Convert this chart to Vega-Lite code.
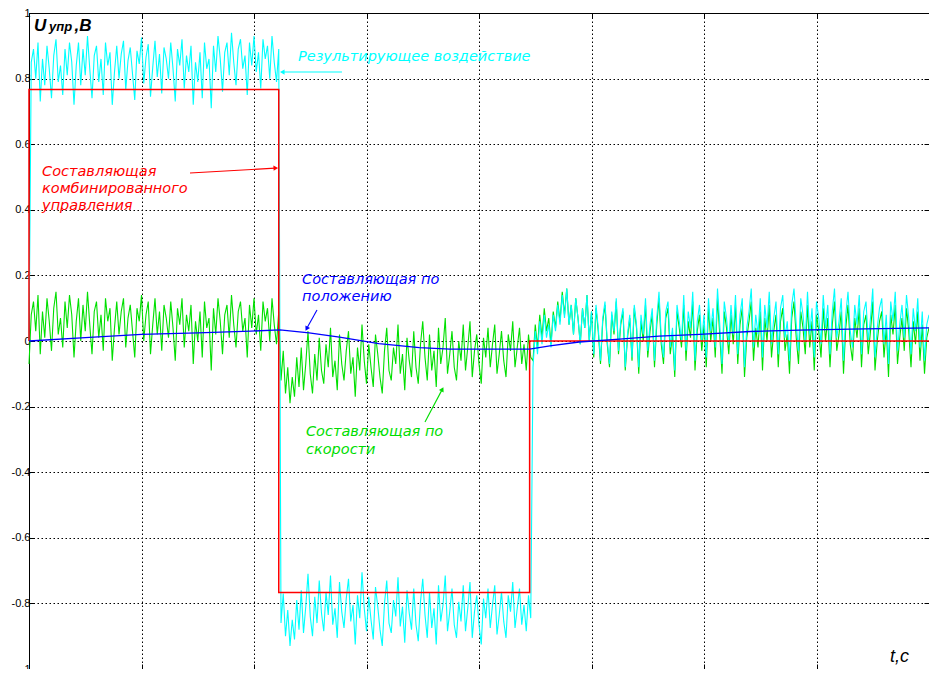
{
"$schema": "https://vega.github.io/schema/vega-lite/v6.json",
"width": 900, "height": 656,
"autosize": {"type": "none"},
"padding": {"left": 29, "top": 13, "right": 0, "bottom": 0},
"background": "white",
"config": {"view": {"stroke": null}, "axis": {"labelFont": "Liberation Sans", "labelFontSize": 11, "labelColor": "#000", "domainColor": "#000", "tickColor": "#000", "title": null}},
"datasets": {
"noise": [
{"t":0,"g":-0.07,"c":0},
{"t":0.0002,"g":0.08,"c":0.85},
{"t":0.0004,"g":0.12,"c":0.89},
{"t":0.0006,"g":0.03,"c":0.8},
{"t":0.0008,"g":0.14,"c":0.91},
{"t":0.001,"g":-0.04,"c":0.73},
{"t":0.0012,"g":0.09,"c":0.86},
{"t":0.0014,"g":0.01,"c":0.78},
{"t":0.0016,"g":0.13,"c":0.9},
{"t":0.0018,"g":0.06,"c":0.83},
{"t":0.002,"g":-0.03,"c":0.74},
{"t":0.0022,"g":0.1,"c":0.87},
{"t":0.0024,"g":0.15,"c":0.92},
{"t":0.0026,"g":0.02,"c":0.79},
{"t":0.0028,"g":0.07,"c":0.84},
{"t":0.003,"g":-0.02,"c":0.75},
{"t":0.0032,"g":0.12,"c":0.89},
{"t":0.0034,"g":0.04,"c":0.81},
{"t":0.0036,"g":0.14,"c":0.91},
{"t":0.0038,"g":0.08,"c":0.85},
{"t":0.004,"g":-0.05,"c":0.72},
{"t":0.0042,"g":0.06,"c":0.84},
{"t":0.0044,"g":0.13,"c":0.91},
{"t":0.0046,"g":0,"c":0.78},
{"t":0.0048,"g":0.11,"c":0.89},
{"t":0.005,"g":0.03,"c":0.81},
{"t":0.0052,"g":0.15,"c":0.93},
{"t":0.0054,"g":0.05,"c":0.83},
{"t":0.0056,"g":-0.04,"c":0.74},
{"t":0.0058,"g":0.09,"c":0.87},
{"t":0.006,"g":0.12,"c":0.9},
{"t":0.0062,"g":0.01,"c":0.79},
{"t":0.0064,"g":0.08,"c":0.86},
{"t":0.0066,"g":-0.03,"c":0.75},
{"t":0.0068,"g":0.13,"c":0.91},
{"t":0.007,"g":0.06,"c":0.84},
{"t":0.0072,"g":0.1,"c":0.88},
{"t":0.0074,"g":-0.06,"c":0.72},
{"t":0.0076,"g":0.04,"c":0.82},
{"t":0.0078,"g":0.12,"c":0.9},
{"t":0.008,"g":0.02,"c":0.8},
{"t":0.0082,"g":0.09,"c":0.875},
{"t":0.0084,"g":0.13,"c":0.915},
{"t":0.0086,"g":-0.02,"c":0.765},
{"t":0.0088,"g":0.07,"c":0.855},
{"t":0.009,"g":0.11,"c":0.895},
{"t":0.0092,"g":0.03,"c":0.815},
{"t":0.0094,"g":-0.05,"c":0.735},
{"t":0.0096,"g":0.1,"c":0.885},
{"t":0.0098,"g":0.06,"c":0.845},
{"t":0.01,"g":0.14,"c":0.925},
{"t":0.0102,"g":0,"c":0.785},
{"t":0.0104,"g":0.08,"c":0.865},
{"t":0.0106,"g":0.12,"c":0.905},
{"t":0.0108,"g":-0.04,"c":0.745},
{"t":0.011,"g":0.05,"c":0.835},
{"t":0.0112,"g":0.13,"c":0.915},
{"t":0.0114,"g":0.02,"c":0.805},
{"t":0.0116,"g":0.09,"c":0.875},
{"t":0.0118,"g":-0.03,"c":0.755},
{"t":0.012,"g":0.11,"c":0.895},
{"t":0.0122,"g":0.07,"c":0.86},
{"t":0.0124,"g":0.01,"c":0.8},
{"t":0.0126,"g":0.12,"c":0.91},
{"t":0.0128,"g":0.04,"c":0.83},
{"t":0.013,"g":-0.06,"c":0.73},
{"t":0.0132,"g":0.1,"c":0.89},
{"t":0.0134,"g":0.05,"c":0.84},
{"t":0.0136,"g":0.13,"c":0.92},
{"t":0.0138,"g":-0.02,"c":0.77},
{"t":0.014,"g":0.08,"c":0.87},
{"t":0.0142,"g":0.03,"c":0.82},
{"t":0.0144,"g":0.11,"c":0.9},
{"t":0.0146,"g":-0.07,"c":0.72},
{"t":0.0148,"g":0.06,"c":0.85},
{"t":0.015,"g":0,"c":0.79},
{"t":0.0152,"g":0.09,"c":0.88},
{"t":0.0154,"g":-0.05,"c":0.74},
{"t":0.0156,"g":0.12,"c":0.91},
{"t":0.0158,"g":0.04,"c":0.83},
{"t":0.016,"g":0.07,"c":0.86},
{"t":0.0162,"g":-0.09,"c":0.71},
{"t":0.0164,"g":0.1,"c":0.9},
{"t":0.0166,"g":0.02,"c":0.82},
{"t":0.0168,"g":0.13,"c":0.93},
{"t":0.017,"g":0.06,"c":0.86},
{"t":0.0172,"g":-0.04,"c":0.76},
{"t":0.0174,"g":0.08,"c":0.88},
{"t":0.0176,"g":0.11,"c":0.91},
{"t":0.0178,"g":0.01,"c":0.81},
{"t":0.018,"g":0.14,"c":0.94},
{"t":0.0182,"g":0.05,"c":0.85},
{"t":0.0184,"g":-0.02,"c":0.78},
{"t":0.0186,"g":0.09,"c":0.89},
{"t":0.0188,"g":0.12,"c":0.92},
{"t":0.019,"g":0.03,"c":0.83},
{"t":0.0192,"g":0.07,"c":0.87},
{"t":0.0194,"g":-0.05,"c":0.75},
{"t":0.0196,"g":0.11,"c":0.91},
{"t":0.0198,"g":0.04,"c":0.84},
{"t":0.02,"g":0.13,"c":0.93},
{"t":0.0202,"g":0.02,"c":0.82},
{"t":0.0204,"g":0.08,"c":0.88},
{"t":0.0206,"g":-0.03,"c":0.77},
{"t":0.0208,"g":0.12,"c":0.92},
{"t":0.021,"g":0.06,"c":0.86},
{"t":0.0212,"g":0.1,"c":0.9},
{"t":0.0214,"g":0,"c":0.8},
{"t":0.0216,"g":0.13,"c":0.93},
{"t":0.0218,"g":0.05,"c":0.85},
{"t":0.022,"g":-0.01,"c":0.79},
{"t":0.0222,"g":0.09,"c":0.89},
{"t":0.0224,"g":-0.12,"c":-0.86},
{"t":0.0226,"g":-0.03,"c":-0.77},
{"t":0.0228,"g":-0.16,"c":-0.9},
{"t":0.023,"g":-0.08,"c":-0.82},
{"t":0.0232,"g":-0.19,"c":-0.93},
{"t":0.0234,"g":-0.11,"c":-0.85},
{"t":0.0236,"g":-0.17,"c":-0.91},
{"t":0.0238,"g":-0.05,"c":-0.79},
{"t":0.024,"g":-0.14,"c":-0.88},
{"t":0.0242,"g":-0.02,"c":-0.76},
{"t":0.0244,"g":-0.15,"c":-0.89},
{"t":0.0246,"g":-0.07,"c":-0.81},
{"t":0.0248,"g":0.03,"c":-0.71},
{"t":0.025,"g":-0.1,"c":-0.84},
{"t":0.0252,"g":-0.16,"c":-0.9},
{"t":0.0254,"g":-0.04,"c":-0.78},
{"t":0.0256,"g":-0.12,"c":-0.86},
{"t":0.0258,"g":0.01,"c":-0.73},
{"t":0.026,"g":-0.09,"c":-0.83},
{"t":0.0262,"g":-0.13,"c":-0.885},
{"t":0.0264,"g":-0.01,"c":-0.765},
{"t":0.0266,"g":-0.08,"c":-0.835},
{"t":0.0268,"g":0.04,"c":-0.715},
{"t":0.027,"g":-0.11,"c":-0.865},
{"t":0.0272,"g":-0.06,"c":-0.815},
{"t":0.0274,"g":-0.15,"c":-0.905},
{"t":0.0276,"g":0.02,"c":-0.735},
{"t":0.0278,"g":-0.07,"c":-0.825},
{"t":0.028,"g":-0.12,"c":-0.875},
{"t":0.0282,"g":-0.03,"c":-0.785},
{"t":0.0284,"g":0.03,"c":-0.725},
{"t":0.0286,"g":-0.1,"c":-0.855},
{"t":0.0288,"g":-0.05,"c":-0.805},
{"t":0.029,"g":-0.17,"c":-0.925},
{"t":0.0292,"g":-0.02,"c":-0.775},
{"t":0.0294,"g":-0.09,"c":-0.845},
{"t":0.0296,"g":0.05,"c":-0.705},
{"t":0.0298,"g":-0.06,"c":-0.815},
{"t":0.03,"g":-0.13,"c":-0.885},
{"t":0.0302,"g":-0.01,"c":-0.78},
{"t":0.0304,"g":-0.08,"c":-0.85},
{"t":0.0306,"g":-0.14,"c":-0.91},
{"t":0.0308,"g":0.02,"c":-0.75},
{"t":0.031,"g":-0.04,"c":-0.81},
{"t":0.0312,"g":-0.11,"c":-0.88},
{"t":0.0314,"g":-0.16,"c":-0.93},
{"t":0.0316,"g":-0.03,"c":-0.8},
{"t":0.0318,"g":0.04,"c":-0.73},
{"t":0.032,"g":-0.09,"c":-0.86},
{"t":0.0322,"g":-0.12,"c":-0.89},
{"t":0.0324,"g":-0.02,"c":-0.79},
{"t":0.0326,"g":-0.07,"c":-0.84},
{"t":0.0328,"g":0.05,"c":-0.72},
{"t":0.033,"g":-0.1,"c":-0.87},
{"t":0.0332,"g":-0.04,"c":-0.81},
{"t":0.0334,"g":-0.15,"c":-0.92},
{"t":0.0336,"g":0.01,"c":-0.76},
{"t":0.0338,"g":-0.06,"c":-0.83},
{"t":0.034,"g":-0.11,"c":-0.88},
{"t":0.0342,"g":0.03,"c":-0.755},
{"t":0.0344,"g":-0.08,"c":-0.865},
{"t":0.0346,"g":-0.13,"c":-0.915},
{"t":0.0348,"g":-0.01,"c":-0.795},
{"t":0.035,"g":0.06,"c":-0.725},
{"t":0.0352,"g":-0.05,"c":-0.835},
{"t":0.0354,"g":-0.12,"c":-0.905},
{"t":0.0356,"g":0.02,"c":-0.765},
{"t":0.0358,"g":-0.09,"c":-0.875},
{"t":0.036,"g":-0.03,"c":-0.815},
{"t":0.0362,"g":-0.14,"c":-0.925},
{"t":0.0364,"g":0.04,"c":-0.745},
{"t":0.0366,"g":-0.07,"c":-0.855},
{"t":0.0368,"g":-0.02,"c":-0.805},
{"t":0.037,"g":0.07,"c":-0.715},
{"t":0.0372,"g":-0.1,"c":-0.885},
{"t":0.0374,"g":-0.04,"c":-0.825},
{"t":0.0376,"g":0.03,"c":-0.755},
{"t":0.0378,"g":-0.08,"c":-0.865},
{"t":0.038,"g":-0.12,"c":-0.905},
{"t":0.0382,"g":0,"c":-0.795},
{"t":0.0384,"g":-0.06,"c":-0.855},
{"t":0.0386,"g":0.05,"c":-0.745},
{"t":0.0388,"g":-0.09,"c":-0.885},
{"t":0.039,"g":-0.02,"c":-0.815},
{"t":0.0392,"g":0.06,"c":-0.735},
{"t":0.0394,"g":-0.11,"c":-0.905},
{"t":0.0396,"g":-0.03,"c":-0.825},
{"t":0.0398,"g":0.02,"c":-0.775},
{"t":0.04,"g":-0.07,"c":-0.865},
{"t":0.0402,"g":-0.13,"c":-0.925},
{"t":0.0404,"g":0.01,"c":-0.785},
{"t":0.0406,"g":-0.05,"c":-0.845},
{"t":0.0408,"g":0.04,"c":-0.755},
{"t":0.041,"g":-0.08,"c":-0.875},
{"t":0.0412,"g":-0.01,"c":-0.805},
{"t":0.0414,"g":0.05,"c":-0.745},
{"t":0.0416,"g":-0.1,"c":-0.895},
{"t":0.0418,"g":-0.04,"c":-0.835},
{"t":0.042,"g":0.03,"c":-0.765},
{"t":0.0422,"g":-0.06,"c":-0.855},
{"t":0.0424,"g":-0.11,"c":-0.905},
{"t":0.0426,"g":0.02,"c":-0.775},
{"t":0.0428,"g":-0.03,"c":-0.825},
{"t":0.043,"g":0.06,"c":-0.735},
{"t":0.0432,"g":-0.08,"c":-0.875},
{"t":0.0434,"g":-0.02,"c":-0.815},
{"t":0.0436,"g":0.04,"c":-0.755},
{"t":0.0438,"g":-0.07,"c":-0.865},
{"t":0.044,"g":-0.01,"c":-0.805},
{"t":0.0442,"g":-0.09,"c":-0.885},
{"t":0.0444,"g":0.02,"c":-0.775},
{"t":0.0446,"g":-0.05,"c":-0.845},
{"t":0.0448,"g":-0.06,"c":-0.08},
{"t":0.045,"g":0.05,"c":0.03},
{"t":0.0452,"g":-0.02,"c":-0.04},
{"t":0.0454,"g":0.08,"c":0.06},
{"t":0.0456,"g":0.01,"c":-0.01},
{"t":0.0458,"g":0.1,"c":0.08},
{"t":0.046,"g":0.03,"c":0.01},
{"t":0.0462,"g":0.07,"c":0.05},
{"t":0.0464,"g":-0.01,"c":-0.02},
{"t":0.0466,"g":0.09,"c":0.08},
{"t":0.0468,"g":0.04,"c":0.03},
{"t":0.047,"g":0.12,"c":0.11},
{"t":0.0472,"g":0.06,"c":0.05},
{"t":0.0474,"g":0.15,"c":0.14},
{"t":0.0476,"g":0.08,"c":0.07},
{"t":0.0478,"g":0.16,"c":0.16},
{"t":0.048,"g":0.05,"c":0.05},
{"t":0.0482,"g":0.11,"c":0.11},
{"t":0.0484,"g":0.02,"c":0.02},
{"t":0.0486,"g":0.13,"c":0.13},
{"t":0.0488,"g":0.07,"c":0.07},
{"t":0.049,"g":-0.01,"c":-0.01},
{"t":0.0492,"g":0.1,"c":0.1},
{"t":0.0494,"g":0.04,"c":0.04},
{"t":0.0496,"g":0.14,"c":0.14},
{"t":0.0498,"g":0,"c":0},
{"t":0.05,"g":0.09,"c":0.09},
{"t":0.0502,"g":-0.05,"c":-0.04},
{"t":0.0504,"g":0.1,"c":0.11},
{"t":0.0506,"g":0.03,"c":0.04},
{"t":0.0508,"g":-0.07,"c":-0.06},
{"t":0.051,"g":0.06,"c":0.07},
{"t":0.0512,"g":0.11,"c":0.12},
{"t":0.0514,"g":-0.01,"c":0},
{"t":0.0516,"g":-0.08,"c":-0.07},
{"t":0.0518,"g":0.08,"c":0.09},
{"t":0.052,"g":0.02,"c":0.03},
{"t":0.0522,"g":0.12,"c":0.13},
{"t":0.0524,"g":-0.04,"c":-0.03},
{"t":0.0526,"g":0.05,"c":0.06},
{"t":0.0528,"g":0.09,"c":0.1},
{"t":0.053,"g":-0.09,"c":-0.08},
{"t":0.0532,"g":0.01,"c":0.02},
{"t":0.0534,"g":0.07,"c":0.08},
{"t":0.0536,"g":-0.06,"c":-0.05},
{"t":0.0538,"g":0.1,"c":0.11},
{"t":0.054,"g":0.04,"c":0.05},
{"t":0.0542,"g":-0.1,"c":-0.08},
{"t":0.0544,"g":0.06,"c":0.08},
{"t":0.0546,"g":0,"c":0.02},
{"t":0.0548,"g":0.11,"c":0.13},
{"t":0.055,"g":-0.05,"c":-0.03},
{"t":0.0552,"g":0.03,"c":0.05},
{"t":0.0554,"g":0.08,"c":0.1},
{"t":0.0556,"g":-0.08,"c":-0.06},
{"t":0.0558,"g":0.05,"c":0.07},
{"t":0.056,"g":0.13,"c":0.15},
{"t":0.0562,"g":-0.01,"c":0.01},
{"t":0.0564,"g":-0.07,"c":-0.05},
{"t":0.0566,"g":0.07,"c":0.09},
{"t":0.0568,"g":0.1,"c":0.12},
{"t":0.057,"g":-0.04,"c":-0.02},
{"t":0.0572,"g":0.02,"c":0.04},
{"t":0.0574,"g":-0.11,"c":-0.09},
{"t":0.0576,"g":0.09,"c":0.11},
{"t":0.0578,"g":0.04,"c":0.06},
{"t":0.058,"g":-0.02,"c":0},
{"t":0.0582,"g":0.11,"c":0.14},
{"t":0.0584,"g":-0.06,"c":-0.03},
{"t":0.0586,"g":0.06,"c":0.09},
{"t":0.0588,"g":0.01,"c":0.04},
{"t":0.059,"g":0.12,"c":0.15},
{"t":0.0592,"g":-0.09,"c":-0.06},
{"t":0.0594,"g":0.03,"c":0.06},
{"t":0.0596,"g":0.08,"c":0.11},
{"t":0.0598,"g":-0.03,"c":0},
{"t":0.06,"g":0.05,"c":0.08},
{"t":0.0602,"g":-0.08,"c":-0.05},
{"t":0.0604,"g":0.1,"c":0.13},
{"t":0.0606,"g":0,"c":0.03},
{"t":0.0608,"g":0.07,"c":0.1},
{"t":0.061,"g":-0.05,"c":-0.02},
{"t":0.0612,"g":0.13,"c":0.16},
{"t":0.0614,"g":0.02,"c":0.05},
{"t":0.0616,"g":-0.1,"c":-0.07},
{"t":0.0618,"g":0.09,"c":0.12},
{"t":0.062,"g":0.04,"c":0.07},
{"t":0.0622,"g":-0.04,"c":-0.01},
{"t":0.0624,"g":0.08,"c":0.11},
{"t":0.0626,"g":-0.01,"c":0.02},
{"t":0.0628,"g":0.11,"c":0.14},
{"t":0.063,"g":-0.07,"c":-0.04},
{"t":0.0632,"g":0.05,"c":0.08},
{"t":0.0634,"g":0.1,"c":0.13},
{"t":0.0636,"g":-0.11,"c":-0.08},
{"t":0.0638,"g":0.01,"c":0.04},
{"t":0.064,"g":0.06,"c":0.09},
{"t":0.0642,"g":0.12,"c":0.16},
{"t":0.0644,"g":-0.06,"c":-0.02},
{"t":0.0646,"g":0.04,"c":0.08},
{"t":0.0648,"g":-0.02,"c":0.02},
{"t":0.065,"g":0.09,"c":0.13},
{"t":0.0652,"g":-0.09,"c":-0.05},
{"t":0.0654,"g":0.07,"c":0.11},
{"t":0.0656,"g":0,"c":0.04},
{"t":0.0658,"g":0.11,"c":0.15},
{"t":0.066,"g":-0.05,"c":-0.01},
{"t":0.0662,"g":0.03,"c":0.07},
{"t":0.0664,"g":0.08,"c":0.12},
{"t":0.0666,"g":-0.08,"c":-0.04},
{"t":0.0668,"g":0.06,"c":0.1},
{"t":0.067,"g":0.1,"c":0.14},
{"t":0.0672,"g":-0.03,"c":0.01},
{"t":0.0674,"g":0.02,"c":0.06},
{"t":0.0676,"g":-0.1,"c":-0.06},
{"t":0.0678,"g":0.07,"c":0.11},
{"t":0.068,"g":0.12,"c":0.16},
{"t":0.0682,"g":0.01,"c":0.05},
{"t":0.0684,"g":-0.07,"c":-0.03},
{"t":0.0686,"g":0.09,"c":0.13},
{"t":0.0688,"g":0.04,"c":0.08},
{"t":0.069,"g":-0.04,"c":0},
{"t":0.0692,"g":0.11,"c":0.15},
{"t":0.0694,"g":-0.02,"c":0.02},
{"t":0.0696,"g":0.06,"c":0.1},
{"t":0.0698,"g":-0.09,"c":-0.05},
{"t":0.07,"g":0.08,"c":0.12},
{"t":0.0702,"g":0.03,"c":0.07},
{"t":0.0704,"g":-0.05,"c":-0.01},
{"t":0.0706,"g":0.1,"c":0.14},
{"t":0.0708,"g":0,"c":0.04},
{"t":0.071,"g":0.07,"c":0.11},
{"t":0.0712,"g":-0.08,"c":-0.04},
{"t":0.0714,"g":0.05,"c":0.09},
{"t":0.0716,"g":0.12,"c":0.16},
{"t":0.0718,"g":-0.03,"c":0.01},
{"t":0.072,"g":0.02,"c":0.06},
{"t":0.0722,"g":0.09,"c":0.13},
{"t":0.0724,"g":-0.1,"c":-0.06},
{"t":0.0726,"g":0.04,"c":0.08},
{"t":0.0728,"g":0.11,"c":0.15},
{"t":0.073,"g":-0.01,"c":0.03},
{"t":0.0732,"g":-0.06,"c":-0.02},
{"t":0.0734,"g":0.07,"c":0.11},
{"t":0.0736,"g":0.01,"c":0.05},
{"t":0.0738,"g":0.1,"c":0.14},
{"t":0.074,"g":-0.08,"c":-0.04},
{"t":0.0742,"g":0.05,"c":0.09},
{"t":0.0744,"g":0.08,"c":0.12},
{"t":0.0746,"g":-0.04,"c":0},
{"t":0.0748,"g":0.03,"c":0.07},
{"t":0.075,"g":0.12,"c":0.16},
{"t":0.0752,"g":-0.09,"c":-0.05},
{"t":0.0754,"g":0,"c":0.04},
{"t":0.0756,"g":0.06,"c":0.1},
{"t":0.0758,"g":0.09,"c":0.13},
{"t":0.076,"g":-0.05,"c":-0.01},
{"t":0.0762,"g":0.04,"c":0.08},
{"t":0.0764,"g":-0.11,"c":-0.07},
{"t":0.0766,"g":0.08,"c":0.12},
{"t":0.0768,"g":0.02,"c":0.06},
{"t":0.077,"g":0.11,"c":0.15},
{"t":0.0772,"g":-0.07,"c":-0.03},
{"t":0.0774,"g":0.01,"c":0.05},
{"t":0.0776,"g":0.07,"c":0.11},
{"t":0.0778,"g":-0.03,"c":0.01},
{"t":0.078,"g":0.1,"c":0.14},
{"t":0.0782,"g":0.03,"c":0.07},
{"t":0.0784,"g":-0.08,"c":-0.04},
{"t":0.0786,"g":0.06,"c":0.1},
{"t":0.0788,"g":-0.01,"c":0.03},
{"t":0.079,"g":0.09,"c":0.13},
{"t":0.0792,"g":-0.06,"c":-0.02},
{"t":0.0794,"g":0.05,"c":0.09},
{"t":0.0796,"g":-0.1,"c":-0.06},
{"t":0.0798,"g":0.01,"c":0.05},
{"t":0.08,"g":0.04,"c":0.08}
],
"red": [
{"i":0,"t":0,"v":0},
{"i":1,"t":0,"v":0.767},
{"i":2,"t":0.0222,"v":0.767},
{"i":3,"t":0.0222,"v":-0.767},
{"i":4,"t":0.0445,"v":-0.767},
{"i":5,"t":0.0445,"v":0},
{"i":6,"t":0.08,"v":0}
],
"blue": [
{"t":0,"v":0},{"t":0.005,"v":0.01},{"t":0.01,"v":0.02},{"t":0.015,"v":0.025},{"t":0.0197,"v":0.03},{"t":0.0223,"v":0.034},{"t":0.0249,"v":0.025},{"t":0.0276,"v":0.012},{"t":0.0311,"v":-0.008},{"t":0.0347,"v":-0.02},{"t":0.0374,"v":-0.025},{"t":0.0445,"v":-0.025},{"t":0.0463,"v":-0.015},{"t":0.0489,"v":-0.003},{"t":0.0525,"v":0.006},{"t":0.056,"v":0.015},{"t":0.0596,"v":0.02},{"t":0.0641,"v":0.029},{"t":0.0685,"v":0.033},{"t":0.073,"v":0.036},{"t":0.08,"v":0.04}
],
"notes": [
{"s":"c","t":0.02391,"v":0.866,"text":"Результирующее воздействие"},
{"s":"r","t":0.00116,"v":0.515,"text":"Составляющая"},
{"s":"r","t":0.00116,"v":0.463,"text":"комбинированного"},
{"s":"r","t":0.00116,"v":0.413,"text":"управления"},
{"s":"b","t":0.02427,"v":0.186,"text":"Составляющая по"},
{"s":"b","t":0.02427,"v":0.134,"text":"положению"},
{"s":"g","t":0.02462,"v":-0.277,"text":"Составляющая по"},
{"s":"g","t":0.02462,"v":-0.332,"text":"скорости"}
],
"arrows": [
{"s":"c","t":0.02782,"v":0.82,"t2":0.02258,"v2":0.82},
{"s":"r","t":0.01431,"v":0.512,"t2":0.02187,"v2":0.527},
{"s":"b","t":0.0256,"v":0.0945,"t2":0.02471,"v2":0.0396},
{"s":"g","t":0.0352,"v":-0.247,"t2":0.03671,"v2":-0.149}
]
},
"layer": [
{"data": {"name": "noise"}, "mark": {"type": "line", "color": "#00e000", "strokeWidth": 1.1},
 "encoding": {
  "x": {"field": "t", "type": "quantitative", "scale": {"domain": [0, 0.08], "nice": false, "zero": false},
        "axis": {"orient": "bottom", "values": [0, 0.01, 0.02, 0.03, 0.04, 0.05, 0.06, 0.07, 0.08], "labelExpr": "'' + datum.value", "grid": true, "gridDash": [1.5, 2.5], "gridColor": "#000", "gridOpacity": 1, "gridWidth": 1, "tickSize": -5, "labelPadding": 5, "labelFlush": false, "labelOverlap": false}},
  "y": {"field": "g", "type": "quantitative", "scale": {"domain": [-1, 1], "nice": false, "zero": false},
        "axis": {"orient": "left", "values": [-1, -0.8, -0.6, -0.4, -0.2, 0, 0.2, 0.4, 0.6, 0.8, 1], "labelExpr": "'' + datum.value", "grid": true, "gridDash": [1.5, 2.5], "gridColor": "#000", "gridOpacity": 1, "gridWidth": 1, "tickSize": -5, "labelPadding": 4, "labelFlush": false, "labelOverlap": false}}
 }},
{"data": {"name": "noise"}, "mark": {"type": "line", "color": "#00ffff", "strokeWidth": 1.1},
 "encoding": {
  "x": {"field": "t", "type": "quantitative", "axis": {"orient": "top", "values": [0, 0.01, 0.02, 0.03, 0.04, 0.05, 0.06, 0.07, 0.08], "labels": false, "grid": false, "tickSize": -5}},
  "y": {"field": "c", "type": "quantitative", "axis": {"orient": "right", "values": [-1, -0.8, -0.6, -0.4, -0.2, 0, 0.2, 0.4, 0.6, 0.8, 1], "labels": false, "grid": false, "tickSize": -5}}
 }},
{"data": {"name": "red"}, "mark": {"type": "line", "color": "#ff0000", "strokeWidth": 1.5},
 "encoding": {"x": {"field": "t", "type": "quantitative", "axis": null}, "y": {"field": "v", "type": "quantitative", "axis": null}, "order": {"field": "i"}}},
{"data": {"name": "blue"}, "mark": {"type": "line", "color": "#0000ff", "strokeWidth": 1.3},
 "encoding": {"x": {"field": "t", "type": "quantitative", "axis": null}, "y": {"field": "v", "type": "quantitative", "axis": null}}},
{"data": {"name": "arrows"}, "mark": {"type": "rule", "strokeWidth": 1.1},
 "encoding": {"x": {"field": "t", "type": "quantitative", "axis": null}, "y": {"field": "v", "type": "quantitative", "axis": null}, "x2": {"field": "t2"}, "y2": {"field": "v2"},
  "color": {"field": "s", "type": "nominal", "scale": {"domain": ["c", "r", "b", "g"], "range": ["#00ffff", "#ff0000", "#0000ff", "#00dd00"]}, "legend": null}}},
{"data": {"name": "arrows"}, "transform": [{"filter": "datum.s == 'c'"}], "mark": {"type": "point", "shape": "triangle", "filled": true, "size": 28, "angle": 270, "color": "#00ffff", "opacity": 1},
 "encoding": {"x": {"field": "t2", "type": "quantitative", "axis": null}, "y": {"field": "v2", "type": "quantitative", "axis": null}}},
{"data": {"name": "arrows"}, "transform": [{"filter": "datum.s == 'r'"}], "mark": {"type": "point", "shape": "triangle", "filled": true, "size": 28, "angle": 87, "color": "#ff0000", "opacity": 1},
 "encoding": {"x": {"field": "t2", "type": "quantitative", "axis": null}, "y": {"field": "v2", "type": "quantitative", "axis": null}}},
{"data": {"name": "arrows"}, "transform": [{"filter": "datum.s == 'b'"}], "mark": {"type": "point", "shape": "triangle", "filled": true, "size": 28, "angle": 209, "color": "#0000ff", "opacity": 1},
 "encoding": {"x": {"field": "t2", "type": "quantitative", "axis": null}, "y": {"field": "v2", "type": "quantitative", "axis": null}}},
{"data": {"name": "arrows"}, "transform": [{"filter": "datum.s == 'g'"}], "mark": {"type": "point", "shape": "triangle", "filled": true, "size": 28, "angle": 28, "color": "#00dd00", "opacity": 1},
 "encoding": {"x": {"field": "t2", "type": "quantitative", "axis": null}, "y": {"field": "v2", "type": "quantitative", "axis": null}}},
{"data": {"name": "notes"}, "mark": {"type": "text", "font": "DejaVu Sans", "fontStyle": "italic", "fontSize": 14.5, "align": "left", "baseline": "middle"},
 "encoding": {"x": {"field": "t", "type": "quantitative", "axis": null}, "y": {"field": "v", "type": "quantitative", "axis": null}, "text": {"field": "text"},
  "color": {"field": "s", "type": "nominal", "scale": {"domain": ["c", "r", "b", "g"], "range": ["#00ffff", "#ff0000", "#0000ff", "#00dd00"]}, "legend": null}}},
{"data": {"values": [{"t": 0.00044, "v": 0.945, "text": "U"}]}, "mark": {"type": "text", "font": "Liberation Sans", "fontStyle": "italic", "fontWeight": "bold", "fontSize": 17, "align": "left", "baseline": "alphabetic", "color": "#000"},
 "encoding": {"x": {"field": "t", "type": "quantitative", "axis": null}, "y": {"field": "v", "type": "quantitative", "axis": null}, "text": {"field": "text"}}},
{"data": {"values": [{"t": 0.00178, "v": 0.945, "text": "упр"}]}, "mark": {"type": "text", "font": "Liberation Sans", "fontStyle": "italic", "fontWeight": "bold", "fontSize": 13, "align": "left", "baseline": "alphabetic", "color": "#000"},
 "encoding": {"x": {"field": "t", "type": "quantitative", "axis": null}, "y": {"field": "v", "type": "quantitative", "axis": null}, "text": {"field": "text"}}},
{"data": {"values": [{"t": 0.00405, "v": 0.945, "text": ",B"}]}, "mark": {"type": "text", "font": "Liberation Sans", "fontStyle": "italic", "fontWeight": "bold", "fontSize": 17, "align": "left", "baseline": "alphabetic", "color": "#000"},
 "encoding": {"x": {"field": "t", "type": "quantitative", "axis": null}, "y": {"field": "v", "type": "quantitative", "axis": null}, "text": {"field": "text"}}},
{"data": {"values": [{"t": 0.07653, "v": -0.979, "text": "t,c"}]}, "mark": {"type": "text", "font": "Liberation Sans", "fontStyle": "italic", "fontSize": 18, "align": "left", "baseline": "alphabetic", "color": "#000"},
 "encoding": {"x": {"field": "t", "type": "quantitative", "axis": null}, "y": {"field": "v", "type": "quantitative", "axis": null}, "text": {"field": "text"}}}
],
"resolve": {"axis": {"x": "independent", "y": "independent"}}
}
